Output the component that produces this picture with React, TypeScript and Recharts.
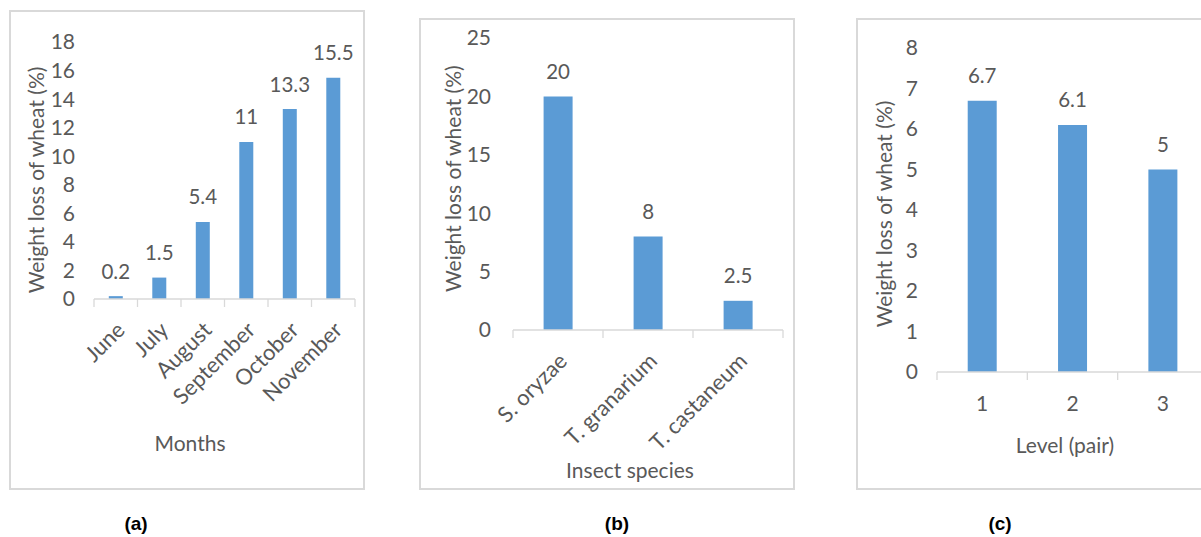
import { Bar, BarChart, LabelList, XAxis, YAxis } from "recharts";

const months = ["June", "July", "August", "September", "October", "November"];
const monthLoss = [0.2, 1.5, 5.4, 11, 13.3, 15.5];
const monthTicks = [0, 2, 4, 6, 8, 10, 12, 14, 16, 18];

const species = ["S. oryzae", "T. granarium", "T. castaneum"];
const speciesLoss = [20, 8, 2.5];
const speciesTicks = [0, 5, 10, 15, 20, 25];

const levels = ["1", "2", "3"];
const levelLoss = [6.7, 6.1, 5];
const levelTicks = [0, 1, 2, 3, 4, 5, 6, 7, 8];

const yTitle = "Weight loss of wheat (%)";

const FONT = "Lato, 'Open Sans', sans-serif";
const GREY = "#595959";
const LINE = "#d9d9d9";
const BLUE = "#5b9bd5";

// label at the band centre, tick marks on the band edges (Excel style)
function CatTick(props: any) {
  const { x, y, payload, index, count, rotated, dx, dy, size } = props;
  const half = payload?.offset ?? 0;
  const lx = x + dx;
  const ly = y + dy;
  return (
    <g>
      <line x1={x - half} x2={x - half} y1={y} y2={y + 8} stroke={LINE} strokeWidth={1.3} />
      {index === count - 1 && (
        <line x1={x + half} x2={x + half} y1={y} y2={y + 8} stroke={LINE} strokeWidth={1.3} />
      )}
      <text
        x={lx}
        y={ly}
        dy="0.35em"
        textAnchor={rotated ? "end" : "middle"}
        transform={rotated ? `rotate(-45 ${lx} ${ly})` : undefined}
        fill={GREY}
        fontSize={size}
        fontFamily={FONT}
      >
        {payload.value}
      </text>
    </g>
  );
}

function AxisTitle(props: any) {
  const { title, px, py, vertical } = props;
  return (
    <text
      x={px}
      y={py}
      dy="0.35em"
      textAnchor="middle"
      transform={vertical ? `rotate(-90 ${px} ${py})` : undefined}
      fill={GREY}
      fontSize={21}
      fontFamily={FONT}
    >
      {title}
    </text>
  );
}

type PanelProps = {
  cats: string[];
  values: number[];
  ticks: number[];
  xTitle: string;
  caption: string;
  left: number;
  top: number;
  width: number;
  height: number;
  margin: { top: number; right: number; left: number; bottom: number };
  yWidth: number;
  xHeight: number;
  yTickGap: number;
  rotated: boolean;
  tickDx: number;
  tickDy: number;
  tickSize: number;
  yTitlePos: [number, number];
  xTitlePos: [number, number];
  captionX: number;
};

function Panel(p: PanelProps) {
  const data = p.cats.map((c, i) => ({ name: c, value: p.values[i] }));
  return (
    <>
      <div
        style={{
          position: "absolute",
          left: p.left,
          top: p.top,
          width: p.width,
          height: p.height,
          boxSizing: "border-box",
          border: `2px solid ${LINE}`,
        }}
      />
      <div style={{ position: "absolute", left: p.left, top: p.top }}>
        <BarChart width={p.width} height={p.height} data={data} margin={p.margin} barCategoryGap="34%">
          <XAxis
            dataKey="name"
            height={p.xHeight}
            interval={0}
            axisLine={{ stroke: LINE, strokeWidth: 1.3 }}
            tickLine={false}
            tickSize={0}
            tickMargin={0}
            tick={
              <CatTick
                count={p.cats.length}
                rotated={p.rotated}
                dx={p.tickDx}
                dy={p.tickDy}
                size={p.tickSize}
              />
            }
            label={<AxisTitle title={p.xTitle} px={p.xTitlePos[0]} py={p.xTitlePos[1]} />}
          />
          <YAxis
            width={p.yWidth}
            domain={[0, p.ticks[p.ticks.length - 1]]}
            ticks={p.ticks}
            interval={0}
            axisLine={false}
            tickLine={false}
            tickSize={0}
            tickMargin={p.yTickGap}
            tick={{ fill: GREY, fontSize: 21, fontFamily: FONT }}
            label={<AxisTitle title={yTitle} px={p.yTitlePos[0]} py={p.yTitlePos[1]} vertical />}
          />
          <Bar dataKey="value" fill={BLUE} isAnimationActive={false}>
            <LabelList
              dataKey="value"
              position="top"
              offset={17.5}
              fill={GREY}
              fontSize={20.5}
              fontFamily={FONT}
            />
          </Bar>
        </BarChart>
      </div>
      <div
        style={{
          position: "absolute",
          left: p.captionX - 40,
          top: 512,
          width: 80,
          textAlign: "center",
          fontFamily: "Arial, 'Liberation Sans', sans-serif",
          fontWeight: "bold",
          fontSize: 19,
          lineHeight: "24px",
          color: "#000",
        }}
      >
        {p.caption}
      </div>
    </>
  );
}

export default function App() {
  return (
    <div
      style={{
        position: "absolute",
        left: 0,
        top: 0,
        width: 1201,
        height: 537,
        overflow: "hidden",
        background: "#fff",
      }}
    >
      <Panel
        cats={months}
        values={monthLoss}
        ticks={monthTicks}
        xTitle="Months"
        caption="(a)"
        left={9}
        top={10}
        width={356}
        height={480}
        margin={{ top: 32, right: 10, left: 0, bottom: 0 }}
        yWidth={85}
        xHeight={191}
        yTickGap={19}
        rotated
        tickDx={5}
        tickDy={27}
        tickSize={22}
        yTitlePos={[27.7, 170]}
        xTitlePos={[181, 434]}
        captionX={136}
      />
      <Panel
        cats={species}
        values={speciesLoss}
        ticks={speciesTicks}
        xTitle="Insect species"
        caption="(b)"
        left={419}
        top={18}
        width={376}
        height={472}
        margin={{ top: 20, right: 12, left: 0, bottom: 0 }}
        yWidth={94}
        xHeight={160}
        yTickGap={22}
        rotated
        tickDx={5}
        tickDy={27}
        tickSize={22}
        yTitlePos={[34.3, 160.7]}
        xTitlePos={[211, 453]}
        captionX={617}
      />
      <Panel
        cats={levels}
        values={levelLoss}
        ticks={levelTicks}
        xTitle="Level (pair)"
        caption="(c)"
        left={856}
        top={18}
        width={370}
        height={472}
        margin={{ top: 30, right: 18, left: 0, bottom: 0 }}
        yWidth={81}
        xHeight={118}
        yTickGap={19}
        rotated={false}
        tickDx={0}
        tickDy={32}
        tickSize={21}
        yTitlePos={[29, 196]}
        xTitlePos={[209, 428]}
        captionX={1000}
      />
    </div>
  );
}
